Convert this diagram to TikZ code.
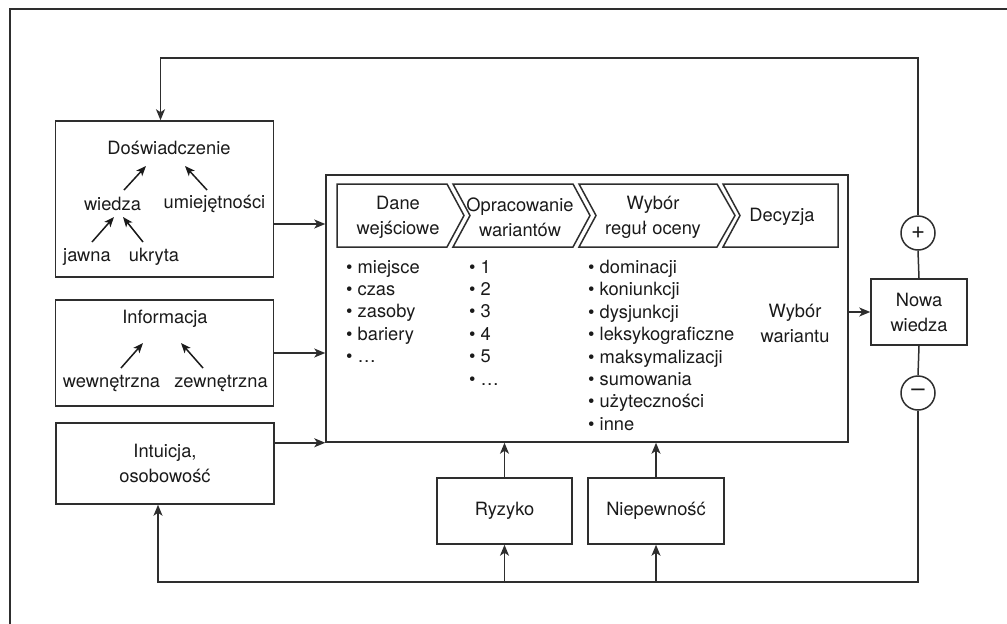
\documentclass[tikz,border=0pt]{standalone}
\usepackage{fontspec}
\setmainfont{TeX Gyre Heros}
\usetikzlibrary{arrows.meta}
\definecolor{lc}{HTML}{2E2E2E}
\definecolor{tc}{HTML}{1A1A1A}
\begin{document}
\begin{tikzpicture}[x=1pt,y=-1pt,
  every node/.style={font=\fontsize{18.3}{25}\selectfont, text=tc},
  box/.style={draw=lc, line width=1.5pt, inner sep=0pt, align=center},
  line/.style={draw=lc, line width=1.5pt},
  arr/.style={line, -{Stealth[length=11pt,width=9pt,inset=3pt]}},
  sarr/.style={draw=tc, line width=1.5pt, -{Stealth[length=10pt,width=8pt,inset=2.5pt]}},
  lbl/.style={inner sep=0pt, align=center},
  listtxt/.style={inner sep=0pt, align=left, anchor=north west, font=\fontsize{18.3}{22.4}\selectfont},
  chev/.style={draw=lc, line width=1.5pt, line join=miter},
  sign/.style={circle, draw=lc, line width=1.5pt, minimum size=34pt, inner sep=0pt, font=\fontsize{24}{24}\selectfont}
]
\useasboundingbox (0,0) rectangle (1007,624);

% frame edges
\draw[lc, line width=1.4pt] (1007,9) -- (10,9) -- (10,624);

% --- left column: sources of the decision ---
\node[box, minimum width=218pt, minimum height=156pt] (dosw) at (164.5,199) {};
\node[lbl] (tdos) at (169,148) {Doświadczenie};
\node[lbl] (wiedza) at (112.5,204) {wiedza};
\node[lbl] (umiej) at (214.5,204) {umiejętności};
\node[lbl] (jawna) at (87,257) {jawna};
\node[lbl] (ukryta) at (154,257) {ukryta};
\draw[sarr] ([shift={(11.5,-14)}]wiedza.center) -- ([shift={(-23,18)}]tdos.center);
\draw[sarr] ([shift={(-7.5,-14)}]umiej.center) -- ([shift={(16,18)}]tdos.center);
\draw[sarr] ([shift={(5,-15)}]jawna.center) -- ([shift={(1.5,13)}]wiedza.center);
\draw[sarr] ([shift={(-11,-15)}]ukryta.center) -- ([shift={(10.5,13)}]wiedza.center);

\node[box, minimum width=218pt, minimum height=106pt] (info) at (164.5,353) {};
\node[lbl] (tinf) at (165,319) {Informacja};
\node[lbl] (wew) at (111.5,383) {wewnętrzna};
\node[lbl] (zew) at (221,383) {zewnętrzna};
\draw[sarr] ([shift={(9.5,-15)}]wew.center) -- ([shift={(-22,24)}]tinf.center);
\draw[sarr] ([shift={(-18,-15)}]zew.center) -- ([shift={(16,24)}]tinf.center);

\node[box, minimum width=218pt, minimum height=81pt] (intu) at (165,463.5) {Intuicja,\\osobowość};

% --- central process box ---
\node[box, minimum width=522pt, minimum height=267pt] (main) at (587,308.5) {};
\draw[chev] (337,184) -- (447,184) -- (464,215.5) -- (447,247) -- (337,247) -- cycle;
\draw[chev] (453,184) -- (573,184) -- (590,215.5) -- (573,247) -- (453,247) -- (470,215.5) -- cycle;
\draw[chev] (579,184) -- (717,184) -- (735,215.5) -- (717,247) -- (579,247) -- (596,215.5) -- cycle;
\draw[chev] (723,184) -- (838,184) -- (838,247) -- (723,247) -- (740,215.5) -- cycle;
\node[lbl] (s1) at (398,217.5) {Dane\\wejściowe};
\node[lbl] (s2) at (520,217.5) {Opracowanie\\wariantów};
\node[lbl] (s3) at (653,217.5) {Wybór\\reguł oceny};
\node[lbl] (s4) at (782,217) {Decyzja};

\node[listtxt] (l1) at (346,260) {• miejsce\\• czas\\• zasoby\\• bariery\\• …};
\node[listtxt] (l2) at (469,260) {• 1\\• 2\\• 3\\• 4\\• 5\\• …};
\node[listtxt] (l3) at (588,260) {• dominacji\\• koniunkcji\\• dysjunkcji\\• leksykograficzne\\• maksymalizacji\\• sumowania\\• użyteczności\\• inne};
\node[lbl] (wyb) at (795,323) {Wybór\\wariantu};

% --- new knowledge and feedback ---
\node[box, minimum width=96pt, minimum height=66pt] (nw) at (919,312) {Nowa\\wiedza};
\node[sign] (plus) at (918,233) {+};
\node[sign] (minus) at (918,393) {–};

% --- risk and uncertainty ---
\node[box, minimum width=135pt, minimum height=66pt] (ryz) at (504.5,511) {Ryzyko};
\node[box, minimum width=136pt, minimum height=66pt] (niep) at (656,511) {Niepewność};

% connectors
\coordinate (dosout) at ([shift={(0,25)}]dosw.east);
\draw[arr] (dosout) -- (dosout -| main.west);
\draw[arr] (info.east) -- (info.east -| main.west);
\draw[arr] (intu.east |- main.south) -- (main.south west);
\draw[arr] (main.east |- nw.west) -- (nw.west);
\draw[line] (nw.north) -- (plus.south);
\draw[line] (nw.south) -- (minus.north);

\coordinate (topy) at (0,58);
\coordinate (boty) at (0,582);
\coordinate (dosin) at ([shift={(-4,0)}]dosw.north);
\coordinate (intin) at ([shift={(-7,0)}]intu.south);
\draw[arr] (plus.north) -- (plus.north |- topy) -| (dosin);
\draw[arr] (minus.south) -- (minus.south |- boty) -| (intin);

\draw[arr] (ryz.south |- boty) -- (ryz.south);
\draw[arr] (ryz.north) -- (ryz.north |- main.south);
\draw[arr] (niep.south |- boty) -- (niep.south);
\draw[arr] (niep.north) -- (niep.north |- main.south);
\end{tikzpicture}
\end{document}
